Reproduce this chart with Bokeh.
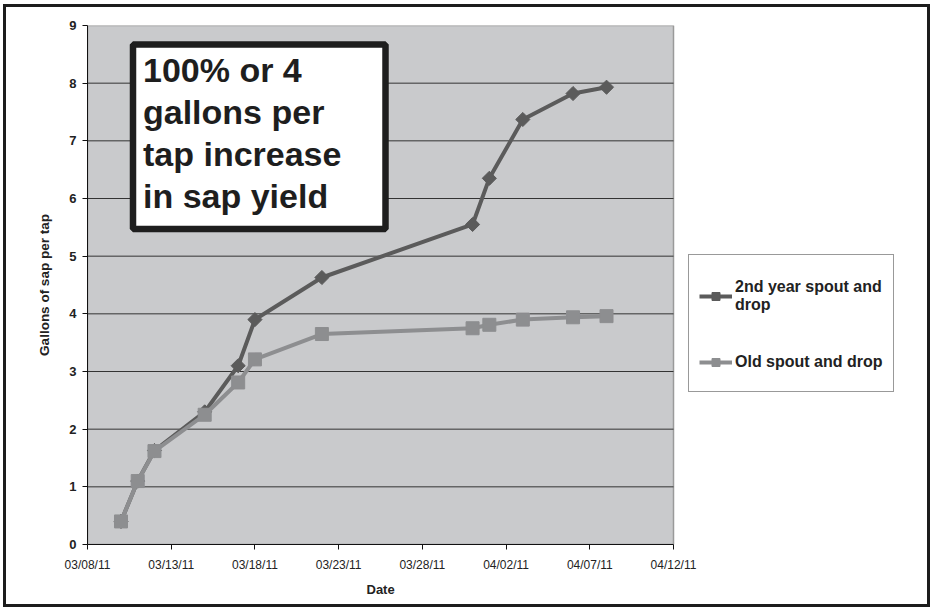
import numpy as np
import pandas as pd
from bokeh.plotting import figure
from bokeh.models import (FixedTicker, DatetimeTickFormatter, Legend, LegendItem,
                          BoxAnnotation, Label, Range1d, Title)
from bokeh.embed import file_html
from bokeh.resources import INLINE

# ---- data ----
dates = ["2011-03-10", "2011-03-11", "2011-03-12", "2011-03-15", "2011-03-17", "2011-03-18",
         "2011-03-22", "2011-03-31", "2011-04-01", "2011-04-03", "2011-04-06", "2011-04-08"]
second_year = [0.40, 1.10, 1.63, 2.30, 3.10, 3.90, 4.63, 5.55, 6.35, 7.37, 7.82, 7.93]
old_spout = [0.40, 1.10, 1.62, 2.25, 2.81, 3.21, 3.65, 3.75, 3.81, 3.90, 3.94, 3.96]
series_names = ["2nd year spout and\ndrop", "Old spout and drop"]
x_ticks = ["2011-03-08", "2011-03-13", "2011-03-18", "2011-03-23", "2011-03-28",
           "2011-04-02", "2011-04-07", "2011-04-12"]
y_ticks = [0, 1, 2, 3, 4, 5, 6, 7, 8, 9]
x_start, x_end = "2011-03-08", "2011-04-12"
y_start, y_end = 0, 9
note_text = "100% or 4\ngallons per\ntap increase\nin sap yield"
x_label = "Date"
y_label = "Gallons of sap per tap"

FONT = "Liberation Sans"

# ---- layout (pixels) ----
PLOT_L, PLOT_R, FRAME_R = 87, 673, 915   # plotted date span and the wider frame


def ms(d):
    return pd.Timestamp(d).value / 1e6


x = pd.to_datetime(dates)
x0, x1 = ms(x_start), ms(x_end)
px_per_ms = (PLOT_R - PLOT_L) / (x1 - x0)
x_frame_end = x1 + (FRAME_R - PLOT_R) / px_per_ms

p = figure(width=927, height=603, x_axis_type="datetime", output_backend="svg",
           toolbar_location=None,
           x_range=Range1d(x0, x_frame_end), y_range=Range1d(y_start, y_end),
           min_border_left=81, min_border_right=18, min_border_top=18, min_border_bottom=66)
p.styles = {"border": "3px solid #1c1c1c", "margin-left": "3px", "margin-top": "4px"}

p.background_fill_color = "white"
p.border_fill_color = "white"
p.outline_line_color = None
p.xgrid.visible = False
p.ygrid.visible = False

# plot area (grey) limited to the date span, like the original
p.quad(left=[x0], right=[x1], bottom=[y_start], top=[y_end],
       fill_color="#c9cacc", line_color="#9a9a9a", line_width=1.5, level="image")
inner = y_ticks[1:-1]
p.segment(x0=[x0] * len(inner), x1=[x1] * len(inner), y0=inner, y1=inner,
          line_color="#333333", line_width=1, level="underlay")

p.xaxis.ticker = FixedTicker(ticks=[ms(t) for t in x_ticks])
p.xaxis.bounds = (x0, x1)
fmt = "%m/%d/%y"
p.xaxis.formatter = DatetimeTickFormatter(
    microseconds=fmt, milliseconds=fmt, seconds=fmt, minsec=fmt, minutes=fmt,
    hourmin=fmt, hours=fmt, days=fmt, months=fmt, years=fmt)
p.yaxis.ticker = FixedTicker(ticks=y_ticks)

for ax in (p.xaxis[0], p.yaxis[0]):
    ax.axis_line_color = "#111111"
    ax.axis_line_width = 1
    ax.major_tick_line_color = "#111111"
    ax.major_tick_out = 5
    ax.major_tick_in = 0
    ax.minor_tick_line_color = None
    ax.major_label_text_font = FONT
    ax.major_label_text_color = "#222222"
    ax.axis_label_text_font = FONT
    ax.axis_label_text_font_style = "bold"
    ax.axis_label_text_color = "#222222"

p.xaxis.major_label_text_font_size = "12px"
p.xaxis.major_label_standoff = 8
p.yaxis.major_label_text_font_size = "13px"
p.yaxis.major_label_text_font_style = "bold"
p.yaxis.major_label_standoff = 6
p.yaxis.axis_label = y_label
p.yaxis.axis_label_text_font_size = "13.5px"
p.yaxis.axis_label_standoff = 14

# x-axis title centred under the plotted date span
date_title = Title(text=x_label, align="left", offset=279, standoff=10,
                   text_font=FONT, text_font_size="13px", text_font_style="bold",
                   text_color="#222222")
p.add_layout(date_title, "below")

# ---- series ----
c1 = "#5b5b5b"
c2 = "#8d8e90"
r1 = p.line(x, second_year, line_color=c1, line_width=4)
m1 = p.scatter(x, second_year, marker="square", angle=np.pi / 4, size=10,
               fill_color=c1, line_color=c1)
r2 = p.line(x, old_spout, line_color=c2, line_width=4)
m2 = p.scatter(x, old_spout, marker="square", size=13, fill_color=c2, line_color=c2)

# ---- note box ----
note_box = BoxAnnotation(left=45.5, right=298, bottom=315.5, top=500,
                         left_units="screen", right_units="screen",
                         bottom_units="screen", top_units="screen",
                         fill_color="white", fill_alpha=1.0,
                         line_color="#1e1e1e", line_width=6.5, line_alpha=1.0)
p.add_layout(note_box)
note = Label(x=55.5, y=494, x_units="screen", y_units="screen", text=note_text,
             text_font=FONT, text_font_size="34px", text_font_style="bold",
             text_color="#1e1e1e", text_baseline="top", text_align="left",
             text_line_height=1.11)
p.add_layout(note)

# ---- legend ----
legend = Legend(items=[LegendItem(label=series_names[0], renderers=[r1, m1]),
                       LegendItem(label=series_names[1], renderers=[r2, m2])],
                location=(601, 152), orientation="vertical",
                border_line_color="#333333", border_line_width=1.5,
                background_fill_color="white", background_fill_alpha=1.0,
                padding=10, spacing=27, glyph_width=33, glyph_height=20,
                label_standoff=3, label_height=39,
                title=" ", title_text_font_size="10px", title_standoff=0,
                label_text_font=FONT, label_text_font_size="16px",
                label_text_font_style="bold", label_text_color="#222222",
                label_text_line_height=1.4, margin=0)
p.add_layout(legend)

open("out.html", "w").write(file_html(p, INLINE))
